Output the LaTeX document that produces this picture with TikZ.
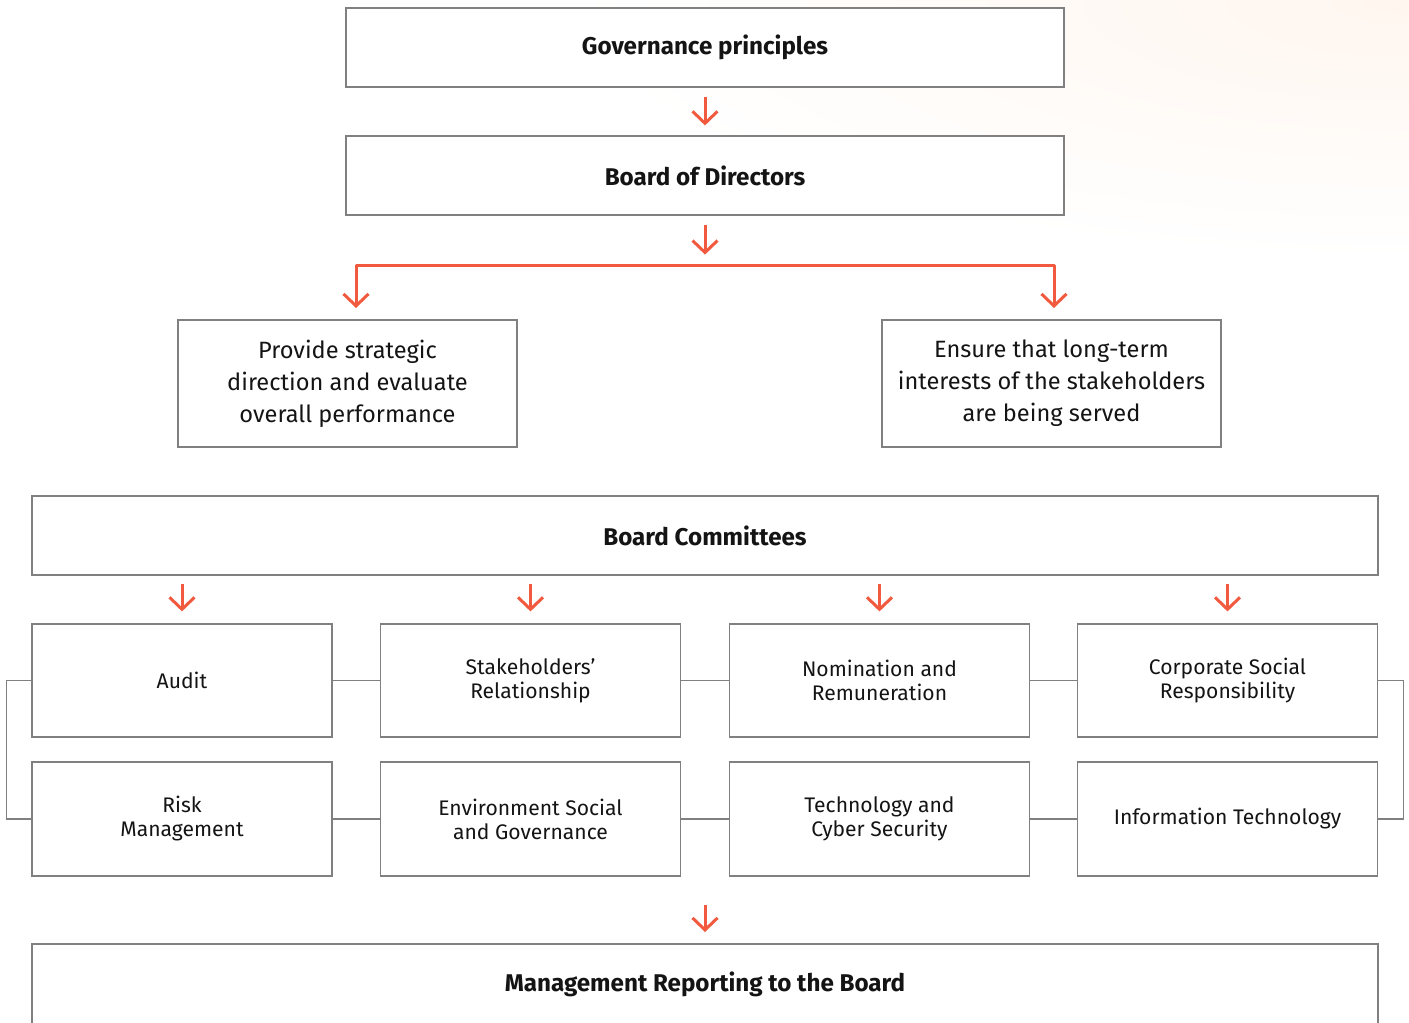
\documentclass[tikz,border=0pt]{standalone}
\usepackage{fontspec}
\setmainfont{Fira Sans}
\usetikzlibrary{arrows.meta}
\definecolor{arr}{HTML}{F15A3F}
\definecolor{bord}{HTML}{808080}
\definecolor{peach}{RGB}{255,246,239}
\definecolor{ink}{HTML}{141414}
\tikzset{
  box/.style={draw=bord, line width=0.6pt, fill=white, text=ink, align=center, inner sep=0pt},
  titlebox/.style={box, font=\bfseries\fontsize{12.1}{14}\selectfont},
  textbox/.style={box, font=\fontsize{11.8}{16}\selectfont},
  combox/.style={box, font=\fontsize{10.55}{12}\selectfont, minimum width=150pt},
  ra/.style={draw=arr, line width=1.5pt, line join=round, -{Straight Barb[length=6pt,width=12.5pt]}},
  conn/.style={draw=bord, line width=0.6pt},
}
\begin{document}
\begin{tikzpicture}[x=0.5pt,y=-0.5pt]
\useasboundingbox (0,0) rectangle (1409,1023);
\begin{scope}
\clip (0,0) rectangle (1409,1023);
\fill[white] (0,0) rectangle (1409,1023);
\shade[inner color=peach, outer color=white] (1409,0) ellipse[x radius=420pt, y radius=130pt];
\end{scope}
% top boxes
\node[titlebox, minimum width=359pt, minimum height=39.5pt] (gov) at (705,47.5) {Governance principles};
\node[titlebox, minimum width=359pt, minimum height=39.5pt] (bod) at (705,175.5) {Board of Directors};
\node[textbox, minimum width=169.5pt, minimum height=63.5pt] (strat) at (347.5,383.5) {Provide strategic\\direction and evaluate\\overall performance};
\node[textbox, minimum width=169.5pt, minimum height=63.5pt] (ens) at (1051.5,383.5) {Ensure that long-term\\interests of the stakeholders\\are being served};
\node[titlebox, minimum width=673pt, minimum height=39.5pt] (bc) at (705,535.5) {Board Committees};
% committees row 1
\node[combox, minimum height=56.5pt] (audit) at (182,680.5) {Audit};
\node[combox, minimum height=56.5pt] (stake) at (530.5,680.5) {Stakeholders’\\Relationship};
\node[combox, minimum height=56.5pt] (nom) at (879.5,680.5) {Nomination and\\Remuneration};
\node[combox, minimum height=56.5pt] (csr) at (1227.5,680.5) {Corporate Social\\Responsibility};
% committees row 2
\node[combox, minimum height=57pt] (risk) at (182,819) {Risk\\Management};
\node[combox, minimum height=57pt] (esg) at (530.5,819) {Environment Social\\and Governance};
\node[combox, minimum height=57pt] (tech) at (879.5,819) {Technology and\\Cyber Security};
\node[combox, minimum height=57pt] (it) at (1227.5,819) {Information Technology};
% management box (cut by the page edge)
\coordinate (mtl) at (32,944);
\coordinate (mtr) at (1378,944);
\draw[conn] (32,1030) -- (mtl) -- (mtr) -- (1378,1030);
\node[font=\bfseries\fontsize{12.1}{14}\selectfont, text=ink] (mgmt) at (705,984) {Management Reporting to the Board};
% red arrows
\draw[ra] ([yshift=-4.5pt]gov.south) -- ([yshift=5pt]bod.north);
\draw[ra] ([yshift=-4.5pt]bod.south) -- ([yshift=-19.5pt]bod.south);
\coordinate (lt) at (356,308);
\coordinate (rt) at (1054,308);
\coordinate (lc) at (356,265);
\coordinate (rc) at (1054,265);
\draw[ra, {Straight Barb[length=6pt,width=12.5pt]}-{Straight Barb[length=6pt,width=12.5pt]}] (lt) -- (lc) -- (rc) -- (rt);
\foreach \n in {audit,stake,nom,csr}{
  \draw[ra] ([yshift=19.5pt]\n.north) -- ([yshift=6pt]\n.north);
}
\draw[ra] (705,905) -- (705,932);
% grey connectors
\draw[conn] (audit.east) -- (stake.west);
\draw[conn] (stake.east) -- (nom.west);
\draw[conn] (nom.east) -- (csr.west);
\draw[conn] (risk.east) -- (esg.west);
\draw[conn] (esg.east) -- (tech.west);
\draw[conn] (tech.east) -- (it.west);
\draw[conn] (audit.west) -- ++(-25,0) |- (risk.west);
\draw[conn] (csr.east) -- ++(25,0) |- (it.east);
\end{tikzpicture}
\end{document}
